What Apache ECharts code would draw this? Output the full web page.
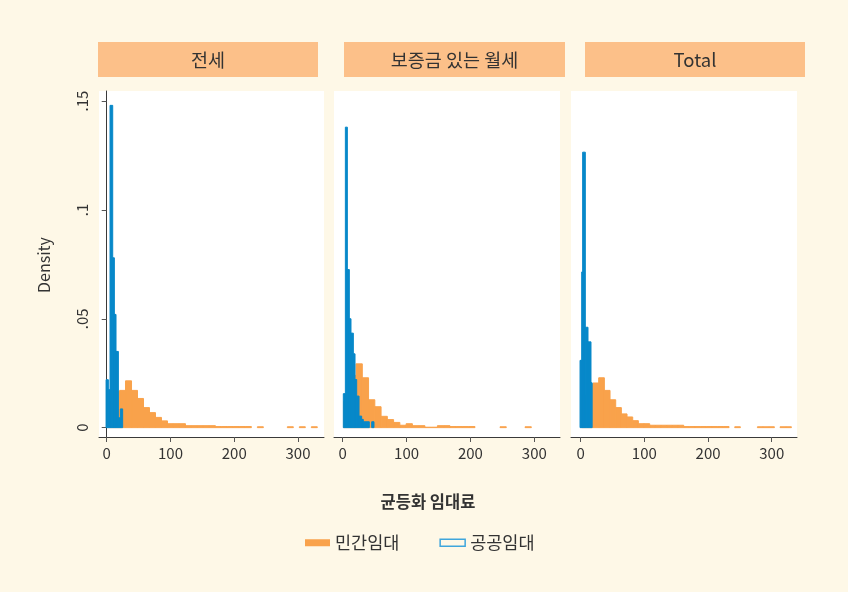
<!DOCTYPE html>
<html>
<head>
<meta charset="utf-8">
<script src="https://cdn.jsdelivr.net/npm/echarts@6/dist/echarts.min.js"></script>
<style>html,body{margin:0;padding:0;background:#FEF8E7;}#c{width:848px;height:592px;}</style>
</head>
<body>
<div id="c"></div>
<script>
// ---------- data ----------
const panelTitles = ['전세', '보증금 있는 월세', 'Total'];
const seriesNames = ['민간임대', '공공임대'];
const xTicks = [0, 100, 200, 300];
const yTicks = [0, 0.05, 0.1, 0.15];
const yTickLabels = ['0', '.05', '.1', '.15'];
const xTitle = '균등화 임대료';
const yTitle = 'Density';

// 민간임대 histograms: first bin start, bin width, densities
const privStart = [1.3, 1.3, 1.6];
const privWidth = [9.4, 9.8, 8.9];
const privJeonse = [0.012, 0.0165, 0.0171, 0.0215, 0.0171, 0.0134, 0.0092, 0.0069, 0.0047, 0.0031,
  0.0018, 0.0018, 0.0018, 0.0009, 0.0009, 0.0009, 0.0009, 0.0009,
  0.0005, 0.0005, 0.0005, 0.0005, 0.0005, 0.0005, 0, 0.0004, 0, 0, 0, 0, 0.0004, 0, 0.0004, 0, 0.0004];
const privWolse = [0.012, 0.024, 0.0293, 0.0229, 0.0128, 0.0096, 0.0052, 0.0037, 0.0024, 0.0011,
  0.0018, 0.0009, 0.0009, 0.0002, 0.0002, 0.0009, 0.0009, 0.0005, 0.0005, 0.0005, 0.0005,
  0, 0, 0, 0, 0.0004, 0, 0, 0, 0.0004];
const privTotal = [0.015, 0.0199, 0.0205, 0.0229, 0.0171, 0.0128, 0.0092, 0.0063, 0.0049, 0.0032,
  0.0018, 0.0018, 0.0011, 0.0011, 0.0011, 0.0011, 0.0011, 0.0011,
  0.0005, 0.0005, 0.0005, 0.0005, 0.0005, 0.0005, 0.0005, 0.0005,
  0, 0.0004, 0, 0, 0, 0.0004, 0.0004, 0.0004, 0, 0.0004, 0.0004];

// 공공임대 histograms: bin edges and densities
const pubEdgesJeonse = [-1, 2.6, 5.2, 9.4, 12, 14.6, 18.3, 21.4, 25];
const pubJeonse = [0.022, 0.0174, 0.148, 0.078, 0.052, 0.035, 0.0045, 0.0086];
const pubEdgesWolse = [1, 4.2, 7.3, 10.4, 13, 16.7, 19.3, 21.9, 25.6, 29.7, 32.3, 41.7, 45.4, 49];
const pubWolse = [0.0156, 0.138, 0.0726, 0.050, 0.0434, 0.0339, 0.0221, 0.0145, 0.0053, 0.0038, 0.0027, 0, 0.0027];
const pubEdgesTotal = [-1, 1.6, 3.1, 7.3, 11.5, 16.2, 18];
const pubTotal = [0.0309, 0.0715, 0.1265, 0.0461, 0.0394, 0.0206];

// ---------- build ----------
const privAll = [privJeonse, privWolse, privTotal];
const pubEdgesAll = [pubEdgesJeonse, pubEdgesWolse, pubEdgesTotal];
const pubAll = [pubJeonse, pubWolse, pubTotal];

function privBins(i) {
  return privAll[i].map((v, k) => [privStart[i] + k * privWidth[i], privStart[i] + (k + 1) * privWidth[i], v]);
}
function pubBins(i) {
  return pubAll[i].map((v, k) => [pubEdgesAll[i][k], pubEdgesAll[i][k + 1], v]);
}

const ORANGE = '#F9A24B';
const BLUE = '#0788C9';
const FONT = '"Noto Sans CJK KR", "Noto Sans", sans-serif';
const TXT = '#333333';

function makeRender(fill, stroke) {
  return function (params, api) {
    const v = api.value(2);
    if (!v) return null;
    const p0 = api.coord([api.value(0), 0]);
    const p1 = api.coord([api.value(1), v]);
    return {
      type: 'rect',
      shape: { x: p0[0], y: p1[1], width: p1[0] - p0[0], height: p0[1] - p1[1] },
      style: { fill: fill, stroke: stroke, lineWidth: 1 }
    };
  };
}

const gridBoxes = [
  { left: 99, top: 91, width: 225, height: 346 },
  { left: 334, top: 91, width: 226, height: 346 },
  { left: 571, top: 91, width: 226, height: 346 }
];
const xMin = [-12.1, -13.6, -15.2];
const xMax = [340.8, 340.2, 339.7];
const stripBoxes = [
  { x: 98, y: 42, w: 220, h: 35 },
  { x: 344, y: 42, w: 221, h: 35 },
  { x: 585, y: 42, w: 220, h: 35 }
];

const grid = [], xAxis = [], yAxis = [], series = [], graphic = [];
for (let i = 0; i < 3; i++) {
  grid.push(Object.assign({ show: true, backgroundColor: '#FFFFFF', borderWidth: 0 }, gridBoxes[i]));
  xAxis.push({
    type: 'value', gridIndex: i, min: xMin[i], max: xMax[i],
    axisLine: { show: true, onZero: false, lineStyle: { color: '#3a3a3a', width: 1 } },
    axisTick: { show: true, customValues: xTicks, length: 5, lineStyle: { color: '#555', width: 1 } },
    axisLabel: { customValues: xTicks, fontSize: 15, color: TXT, margin: 9, fontFamily: FONT },
    splitLine: { show: false }
  });
  yAxis.push({
    type: 'value', gridIndex: i, min: -0.0043, max: 0.1546,
    show: i === 0,
    axisLine: { show: true, lineStyle: { color: '#3a3a3a', width: 1 } },
    axisTick: { show: true, customValues: yTicks, length: 5, lineStyle: { color: '#555', width: 1 } },
    axisLabel: {
      customValues: yTicks, rotate: 90, fontSize: 15, color: TXT, margin: 9, fontFamily: FONT,
      formatter: function (val) {
        const k = yTicks.findIndex(t => Math.abs(t - val) < 1e-9);
        return k >= 0 ? yTickLabels[k] : '';
      }
    },
    splitLine: { show: false }
  });
  series.push({
    name: seriesNames[0], type: 'custom', xAxisIndex: i, yAxisIndex: i,
    renderItem: makeRender(ORANGE, ORANGE),
    itemStyle: { color: ORANGE },
    encode: { x: [0, 1], y: 2 },
    data: privBins(i), z: 2, silent: true
  });
  series.push({
    name: seriesNames[1], type: 'custom', xAxisIndex: i, yAxisIndex: i,
    renderItem: makeRender(BLUE, BLUE),
    itemStyle: { color: BLUE },
    encode: { x: [0, 1], y: 2 },
    data: pubBins(i), z: 3, silent: true
  });
  const s = stripBoxes[i];
  graphic.push({
    type: 'rect', shape: { x: s.x, y: s.y, width: s.w, height: s.h },
    style: { fill: '#FCC089' }
  });
  graphic.push({
    type: 'text', x: s.x + s.w / 2, y: s.y + s.h / 2 + 0.5,
    style: { text: panelTitles[i], fill: TXT, font: '18.5px ' + FONT, align: 'center', verticalAlign: 'middle' }
  });
}
graphic.push({
  type: 'text', x: 43.5, y: 265, rotation: Math.PI / 2,
  style: { text: yTitle, fill: TXT, font: '16px ' + FONT, align: 'center', verticalAlign: 'middle' }
});
graphic.push({
  type: 'text', x: 428, y: 502,
  style: { text: xTitle, fill: TXT, font: 'bold 16.5px ' + FONT, align: 'center', verticalAlign: 'middle' }
});

const chart = echarts.init(document.getElementById('c'), null, { renderer: 'canvas' });
chart.setOption({
  backgroundColor: '#FEF8E7',
  animation: false,
  grid: grid, xAxis: xAxis, yAxis: yAxis, series: series, graphic: graphic,
  legend: {
    left: 305, top: 534, padding: 0, itemWidth: 25, itemHeight: 7, itemGap: 40,
    icon: 'rect',
    textStyle: { fontSize: 17.5, color: TXT, fontFamily: FONT },
    data: [
      { name: seriesNames[0], itemStyle: { color: ORANGE, borderWidth: 0 } },
      { name: seriesNames[1], itemStyle: { color: '#FEF8E7', borderColor: '#3FA6DC', borderWidth: 1.5 } }
    ],
    selectedMode: false
  }
});
</script>
</body>
</html>
